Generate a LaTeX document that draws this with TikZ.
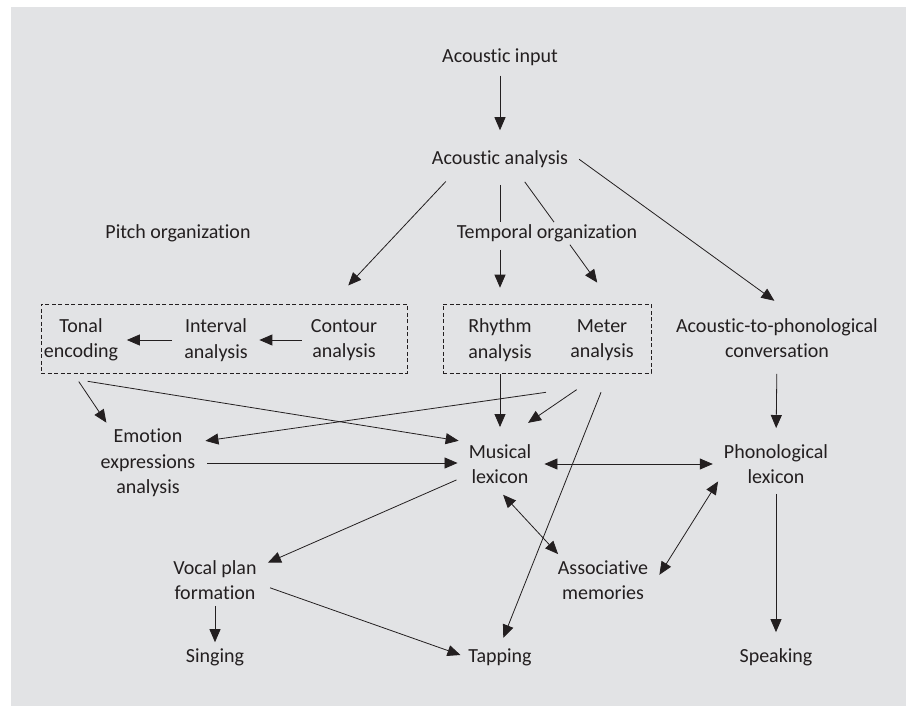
\documentclass[tikz,border=0pt]{standalone}
\usepackage{fontspec}
\setmainfont{Carlito}[Ligatures=NoCommon]
\usetikzlibrary{arrows.meta,calc}
\definecolor{panel}{RGB}{226,227,229}
\definecolor{ink}{RGB}{35,31,32}
\begin{document}
\begin{tikzpicture}[x=1pt,y=-1pt,
    every node/.style={font=\fontsize{20}{25.5}\selectfont, text=ink, align=center, inner sep=2pt},
    group/.style={draw=ink, dash pattern=on 4pt off 2.5pt, line width=0.6pt, inner sep=0pt},
    link/.style={draw=ink, line width=0.8pt},
    arr/.style={link, -{Triangle[length=13pt,width=11pt]}},
    dbl/.style={link, {Triangle[length=13pt,width=11pt]}-{Triangle[length=13pt,width=11pt]}}]
    \useasboundingbox (0,0) rectangle (906,706);
    \fill[panel] (11,7) rectangle (930,730);

    \node(input)        at (500,57)  {Acoustic input};
    \node(analysis)     at (500,159) {Acoustic analysis};
    \node(pitch)        at (178,233) {Pitch organization};
    \node(temporal)     at (547,233) {Temporal organization};

    \node[group, minimum width=366pt, minimum height=69pt] (pitchbox) at (224,338.5) {};
    \node[group, minimum width=208pt, minimum height=69pt] (timebox)  at (547,338.5) {};
    \node(tonal)        at (81,340)  {Tonal\\encoding};
    \node(interval)     at (216,340) {Interval\\analysis};
    \node(contour)      at (344,340) {Contour\\analysis};
    \node(rhythm)       at (500,340) {Rhythm\\analysis};
    \node(meter)        at (602,340) {Meter\\analysis};
    \node(conversion)   at (777,338) {Acoustic-to-phonological\\conversation};

    \node(emotion)      at (148,463) {Emotion\\expressions\\analysis};
    \node(musical)      at (500,464) {Musical\\lexicon};
    \node(phonological) at (776,464) {Phonological\\lexicon};
    \node(vocal)        at (215,580) {Vocal plan\\formation};
    \node(associative)  at (603,580) {Associative\\memories};
    \node(singing)      at (215,657) {Singing};
    \node(tapping)      at (500,657) {Tapping};
    \node(speaking)     at (776,657) {Speaking};

    % acoustic front end
    \draw[arr, shorten <=8pt, shorten >=18pt] (input.south) -- (analysis.north);
    \draw[arr, shorten <=16pt, shorten >=25pt] (analysis.-166) -- (pitchbox.18);
    \draw[link, shorten <=15pt] (analysis.south) -- (analysis.south |- temporal.north);
    \draw[link, shorten <=15pt] (analysis.-34) -- (temporal.57);
    \draw[arr, shorten <=6pt, shorten >=16pt] (analysis.south |- temporal.south) -- (analysis.south |- timebox.north);
    \draw[arr, shorten <=1pt, shorten >=26pt] (temporal.-26) -- (timebox.28);
    \draw[arr, shorten <=11pt, shorten >=26pt] (analysis.5) -- (conversion.50);

    % inside the boxes
    \draw[arr, shorten <=7pt, shorten >=9.5pt] (contour.west) -- (interval.east);
    \draw[arr, shorten <=10pt, shorten >=6.5pt] (interval.west) -- (tonal.east);

    % into the lexicons
    \draw[arr, shorten <=10pt, shorten >=5pt] (pitchbox.-167) -- (emotion.137);
    \draw[arr, shorten >=8pt] ($(pitchbox.south west)+(47,8)$) -- (musical.north west);
    \draw[arr, shorten >=8pt] ($(timebox.south)+(-1,19)$) -- (emotion.23);
    \draw[arr, shorten <=1pt, shorten >=15pt] (analysis.south |- timebox.south) -- (musical.north);
    \draw[arr, shorten <=29pt, shorten >=34pt] (timebox.-33) -- (musical.north);
    \draw[arr, shorten >=9pt] ($(timebox.south)+(54,19)$) -- (tapping.north);
    \draw[arr, shorten <=10pt, shorten >=9pt] (emotion.east) -- (emotion.east -| musical.west);
    \draw[dbl, shorten <=11pt, shorten >=9pt] (musical.east) -- (musical.east -| phonological.west);
    \draw[arr, shorten <=14pt, shorten >=14pt] (conversion.south) -- (phonological.north);

    % outputs
    \draw[arr, shorten <=11pt, shorten >=10pt] (musical.-161) -- (vocal.17);
    \draw[dbl, shorten <=12pt, shorten >=5.5pt] (musical.-103) -- (associative.152);
    \draw[dbl, shorten <=7pt, shorten >=17pt] (phonological.-168) -- (associative.-11);
    \draw[arr, shorten <=4pt, shorten >=4pt] (vocal.south) -- (singing.north);
    \draw[arr, shorten <=12pt, shorten >=6pt] (vocal.-5) -- (tapping.west);
    \draw[arr, shorten <=8pt, shorten >=14pt] (phonological.south) -- (speaking.north);
\end{tikzpicture}
\end{document}
